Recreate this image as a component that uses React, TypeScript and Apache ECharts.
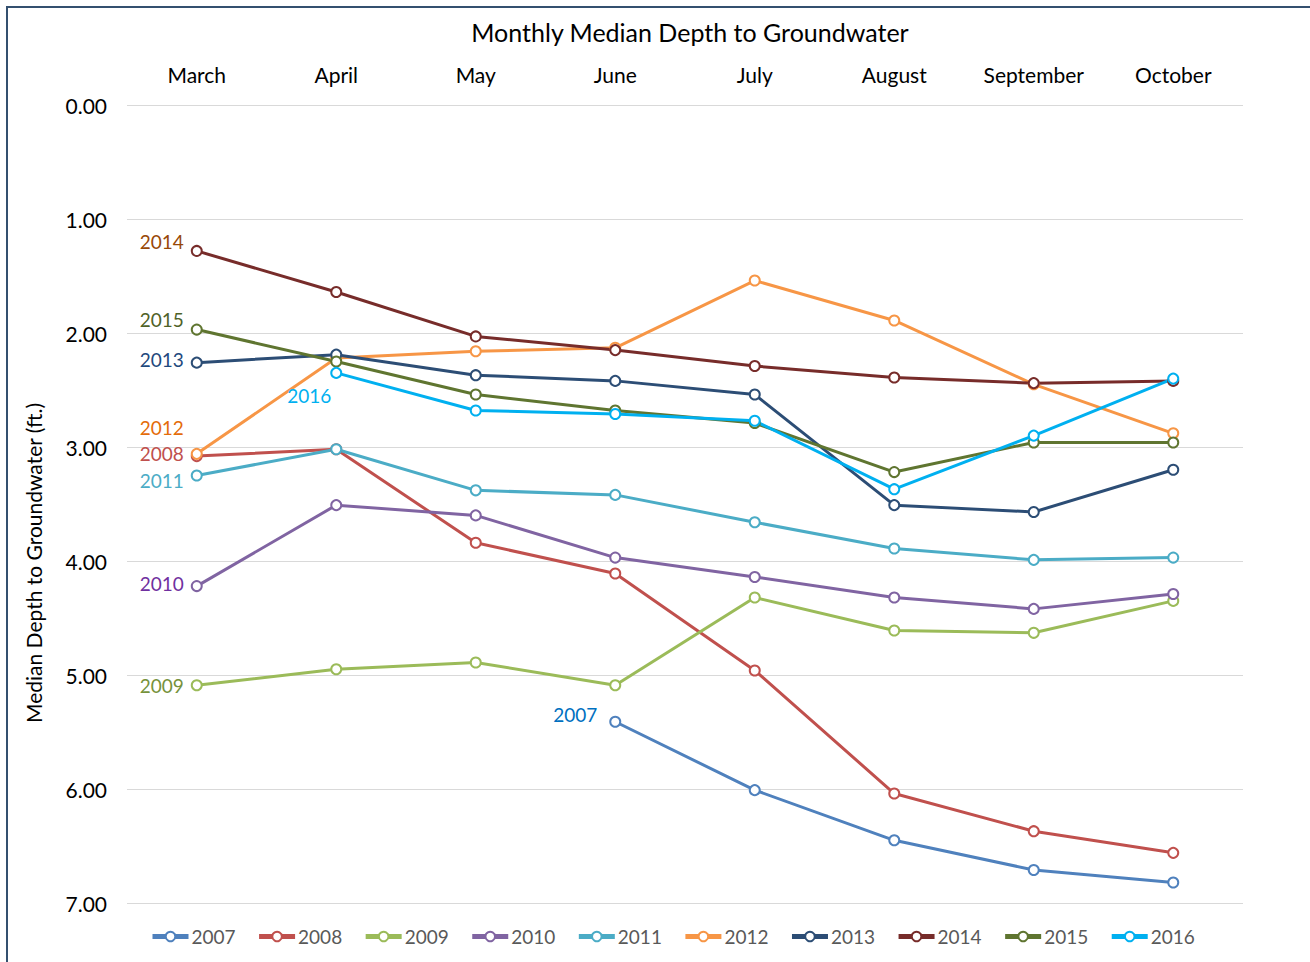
import React, { useEffect, useRef } from "react";
import * as echarts from "echarts";

const months = ["March", "April", "May", "June", "July", "August", "September", "October"];
const years = ["2007", "2008", "2009", "2010", "2011", "2012", "2013", "2014", "2015", "2016"];

const d2007 = [null, null, null, 5.41, 6.01, 6.45, 6.71, 6.82];
const d2008 = [3.08, 3.02, 3.84, 4.11, 4.96, 6.04, 6.37, 6.56];
const d2009 = [5.09, 4.95, 4.89, 5.09, 4.32, 4.61, 4.63, 4.35];
const d2010 = [4.22, 3.51, 3.6, 3.97, 4.14, 4.32, 4.42, 4.29];
const d2011 = [3.25, 3.02, 3.38, 3.42, 3.66, 3.89, 3.99, 3.97];
const d2012 = [3.06, 2.22, 2.16, 2.13, 1.54, 1.89, 2.45, 2.88];
const d2013 = [2.26, 2.19, 2.37, 2.42, 2.54, 3.51, 3.57, 3.2];
const d2014 = [1.28, 1.64, 2.03, 2.15, 2.29, 2.39, 2.44, 2.42];
const d2015 = [1.97, 2.25, 2.54, 2.68, 2.79, 3.22, 2.96, 2.96];
const d2016 = [null, 2.35, 2.68, 2.71, 2.77, 3.37, 2.9, 2.4];

const seriesData = [d2007, d2008, d2009, d2010, d2011, d2012, d2013, d2014, d2015, d2016];

const lineColors = ["#4F81BD", "#C0504D", "#9BBB59", "#8064A2", "#4BACC6", "#F79646", "#2C4D75", "#772C2A", "#5F7530", "#00B0F0"];
const labelColors = ["#0070C0", "#C0504D", "#76923C", "#7030A0", "#4BACC6", "#E46C0A", "#1F497D", "#984807", "#4F6228", "#00B0F0"];
const labelOffsets: number[][] = [
  [-5, -7], [0, -3], [0, 0], [0, -3], [0, 5], [0, -26], [0, -3], [0, -9], [0, -10], [8, 23],
];

const FONT = "Lato, 'Open Sans', sans-serif";

export default function App() {
  const ref = useRef<HTMLDivElement>(null);
  useEffect(() => {
    if (!ref.current) return;
    const chart = echarts.init(ref.current, null, { renderer: "svg" });
    const series = years.map((yr, i) => {
      const arr = seriesData[i];
      const first = arr.findIndex((v) => v !== null);
      return {
        name: yr,
        type: "line",
        data: arr.map((v, j) =>
          j === first
            ? {
                value: v,
                label: {
                  show: true,
                  position: "left",
                  distance: 7,
                  formatter: yr,
                  color: labelColors[i],
                  fontSize: 19,
                  fontFamily: FONT,
                  offset: labelOffsets[i],
                },
              }
            : v
        ),
        symbol: "emptyCircle",
        symbolSize: 10,
        showAllSymbol: true,
        connectNulls: false,
        lineStyle: { width: 3, color: lineColors[i] },
        itemStyle: { color: lineColors[i], borderWidth: 2 },
        label: { show: false },
        emphasis: { disabled: true },
      };
    });
    chart.setOption({
      animation: false,
      backgroundColor: "#ffffff",
      title: {
        text: "Monthly Median Depth to Groundwater",
        left: 685,
        textAlign: "center",
        top: 14,
        textStyle: { fontFamily: FONT, fontSize: 25, fontWeight: "normal", color: "#000000" },
      },
      grid: { left: 127, right: 67, top: 105, bottom: 59 },
      xAxis: {
        type: "category",
        position: "top",
        data: months,
        boundaryGap: true,
        axisLine: { show: false },
        axisTick: { show: false },
        axisLabel: { fontFamily: FONT, fontSize: 21, color: "#000000", margin: 20 },
        splitLine: { show: false },
      },
      yAxis: {
        type: "value",
        inverse: true,
        min: 0,
        max: 7,
        interval: 1,
        axisLine: { show: false },
        axisTick: { show: false },
        axisLabel: {
          fontFamily: FONT,
          fontSize: 21,
          color: "#000000",
          margin: 20,
          formatter: (v: number) => v.toFixed(2),
        },
        splitLine: { lineStyle: { color: "#D9D9D9", width: 1 } },
      },
      legend: {
        bottom: 16,
        left: 150,
        padding: 0,
        itemWidth: 36,
        itemHeight: 12,
        itemGap: 21,
        lineStyle: { width: 5 },
        itemStyle: { borderWidth: 2 },
        textStyle: { fontFamily: FONT, fontSize: 19, color: "#595959", padding: [0, 0, 0, -2] },
        data: years,
      },
      graphic: [
        {
          type: "rect",
          shape: { x: 7, y: 7, width: 1400, height: 1100 },
          style: { fill: "none", stroke: "#34506F", lineWidth: 2 },
          silent: true,
        },
        {
          type: "text",
          x: 33,
          y: 563,
          rotation: Math.PI / 2,
          style: {
            text: "Median Depth to Groundwater (ft.)",
            fontFamily: FONT,
            fontSize: 21,
            fill: "#000000",
            textAlign: "center",
            textVerticalAlign: "middle",
          },
        },
      ],
      series,
    });
    return () => chart.dispose();
  }, []);
  return (
    <div
      ref={ref}
      style={{ position: "fixed", left: 0, top: 0, width: 1310, height: 962 }}
    />
  );
}
